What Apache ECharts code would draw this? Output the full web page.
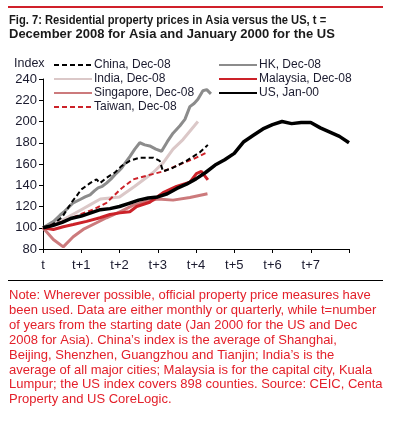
<!DOCTYPE html>
<html>
<head>
<meta charset="utf-8">
<script src="https://cdn.jsdelivr.net/npm/echarts@6/dist/echarts.min.js"></script>
<style>
  html, body { margin: 0; padding: 0; background: #fff; }
  #chart { width: 399px; height: 423px; }
</style>
</head>
<body>
<div id="chart"></div>
<script>
// x = years from starting date (t), y = index
var china = [[0,100],[0.25,103],[0.5,110],[0.75,124],[0.88,130],[1.0,136],[1.23,142],[1.4,145.5],[1.49,142],[1.66,147],[1.88,152],[2.05,158],[2.27,163],[2.53,166],[2.88,166],[3.05,163],[3.14,153],[3.4,156.5],[3.75,163],[4.1,171],[4.31,178]];
var india = [[0,100],[0.25,103],[0.5,107],[0.75,112],[1.0,117],[1.25,122],[1.5,127],[1.75,128],[2.0,129],[2.4,139],[2.88,152],[3.14,161],[3.4,174],[3.66,183],[4.05,200]];
var singapore = [[0,100],[0.27,89],[0.53,82],[0.79,91.5],[1.05,98.4],[1.4,104.7],[1.66,109.4],[2.05,115.6],[2.35,121],[2.71,125],[3.0,127],[3.4,126],[3.84,128.5],[4.3,132]];
var taiwan = [[0,100],[0.25,103],[0.62,107],[0.97,112.5],[1.31,117],[1.66,123.5],[2.05,137],[2.36,145.5],[2.71,149],[3.14,153],[3.58,159.6],[4.01,166],[4.29,171]];
var hk = [[0,100],[0.28,106],[0.45,112],[0.57,115.6],[0.79,123.5],[0.97,126.6],[1.1,129],[1.23,131],[1.35,135],[1.44,137.6],[1.55,139],[1.66,142],[1.78,146],[1.88,150],[1.97,153],[2.05,156],[2.15,161],[2.27,167],[2.4,174],[2.53,180],[2.66,178],[2.79,177],[2.95,174],[3.1,172],[3.25,181],[3.4,189],[3.58,196],[3.71,202],[3.84,214],[3.95,217],[4.05,221],[4.18,229],[4.28,230],[4.39,226]];
var malaysia = [[0,100],[0.27,98.4],[0.53,101],[0.79,103],[1.14,106],[1.49,109.4],[1.75,112.5],[2.01,114],[2.27,115],[2.45,120],[2.79,124],[3.14,133],[3.49,139],[3.84,143],[4.01,151],[4.14,153],[4.31,145]];
var us = [[0,100],[0.25,102],[0.5,105],[0.75,109],[1.0,111],[1.25,114],[1.5,117],[1.75,118],[2.0,120],[2.25,123],[2.5,126],[2.75,128],[3.0,129],[3.25,132],[3.5,137],[3.75,141],[4.0,146],[4.25,152],[4.5,159],[4.75,164],[5.0,170],[5.25,181],[5.5,187],[5.75,193],[6.0,197],[6.25,200],[6.5,198],[6.75,199],[7.0,199],[7.25,194],[7.5,190],[7.75,186],[8.0,180]];

var xTickLabels = ['t','t+1','t+2','t+3','t+4','t+5','t+6','t+7',''];
var titleLine1 = 'Fig. 7: Residential property prices in Asia versus the US, t =';
var titleLine2 = 'December 2008 for Asia and January 2000 for the US';
var noteLines = [
  'Note: Wherever possible, official property price measures have',
  'been used. Data are either monthly or quarterly, while t=number',
  'of years from the starting date (Jan 2000 for the US and Dec',
  '2008 for Asia). China\u2019s index is the average of Shanghai,',
  'Beijing, Shenzhen, Guangzhou and Tianjin; India\u2019s is the',
  'average of all major cities; Malaysia is for the capital city, Kuala',
  'Lumpur; the US index covers 898 counties. Source: CEIC, Centa',
  'Property and US CoreLogic.'
];

var font = 'Liberation Sans, Arial, sans-serif';
var red = '#cc2229';
var ink = '#1a1a2e';

function line(name, data, color, width, dashed, z) {
  return {
    name: name,
    type: 'line',
    data: data,
    symbol: 'none',
    z: z,
    lineStyle: { color: color, width: width, type: dashed ? [5, 3] : 'solid' },
    itemStyle: { color: color }
  };
}

function legendBlock(names, left) {
  return {
    data: names,
    orient: 'vertical', left: left, top: 54,
    itemWidth: 38, itemHeight: 14, itemGap: 2,
    itemStyle: { opacity: 0 },
    textStyle: { fontSize: 12, color: ink, fontFamily: font, padding: [0, 0, 0, -3] }
  };
}

var chart = echarts.init(document.getElementById('chart'));
chart.setOption({
  animation: false,
  textStyle: { fontFamily: font },
  grid: { left: 43, right: 50, top: 79, bottom: 174 },
  legend: [
    legendBlock(['China, Dec-08', 'India, Dec-08', 'Singapore, Dec-08', 'Taiwan, Dec-08'], 48),
    legendBlock(['HK, Dec-08', 'Malaysia, Dec-08', 'US, Jan-00'], 213)
  ],
  xAxis: {
    type: 'value', min: 0, max: 8, interval: 1,
    axisLine: { lineStyle: { color: '#000', width: 1 } },
    axisTick: { length: 4, lineStyle: { color: '#000' } },
    splitLine: { show: false },
    axisLabel: {
      margin: 10, fontSize: 13, color: ink, fontFamily: font,
      formatter: function (v) { return xTickLabels[Math.round(v)]; }
    }
  },
  yAxis: {
    type: 'value', min: 80, max: 240, interval: 20,
    axisLine: { show: true, lineStyle: { color: '#000', width: 1 } },
    axisTick: { show: true, length: 4, lineStyle: { color: '#000' } },
    splitLine: { show: false },
    axisLabel: { margin: 6, fontSize: 13, color: ink, fontFamily: font }
  },
  graphic: [
    { type: 'rect', shape: { x: 8, y: 6, width: 375, height: 2 }, style: { fill: '#d0202a' } },
    { type: 'text', x: 9, y: 14, scaleX: 0.86, scaleY: 1, originX: 0, originY: 0,
      style: { text: titleLine1, fontSize: 13, fontWeight: 'bold', fontFamily: font, fill: '#1a1a1a', verticalAlign: 'top' } },
    { type: 'text', x: 9, y: 28,
      style: { text: titleLine2, fontSize: 13, fontWeight: 'bold', fontFamily: font, fill: '#1a1a1a', verticalAlign: 'top' } },
    { type: 'text', left: 14, top: 57, style: { text: 'Index', font: '12.5px ' + font, fill: ink } },
    { type: 'rect', shape: { x: 8, y: 280, width: 375, height: 1 }, style: { fill: '#000' } },
    { type: 'text', left: 9, top: 288, style: { text: noteLines.join('\n'), font: '13px ' + font, fill: '#e3202a', lineHeight: 14.9 } }
  ],
  series: [
    line('China, Dec-08', china, '#000', 2, true, 6),
    line('India, Dec-08', india, '#dbc8c8', 3, false, 2),
    line('Singapore, Dec-08', singapore, '#cc7a7c', 3, false, 2),
    line('Taiwan, Dec-08', taiwan, red, 2, true, 5),
    line('HK, Dec-08', hk, '#8c8c8c', 3, false, 3),
    line('Malaysia, Dec-08', malaysia, red, 3, false, 4),
    line('US, Jan-00', us, '#000', 3.5, false, 5)
  ]
});
</script>
</body>
</html>
